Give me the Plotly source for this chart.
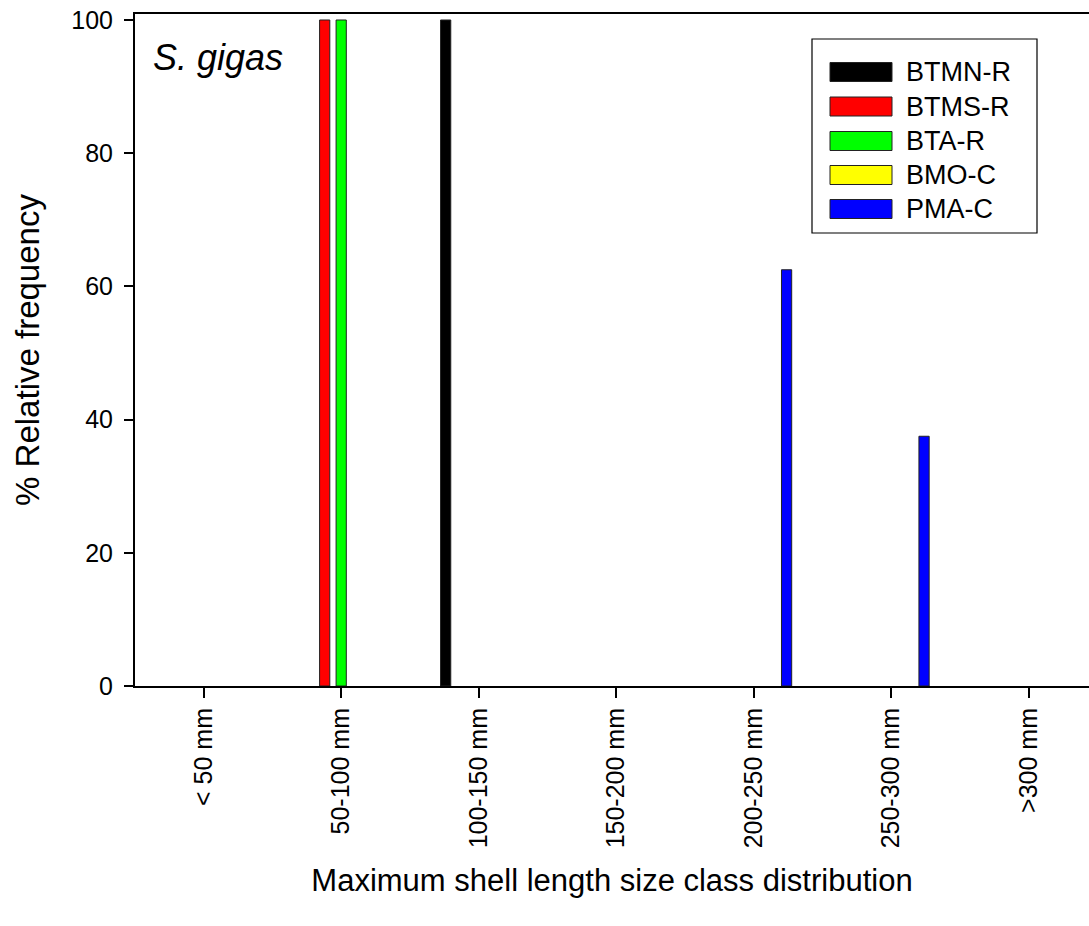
import plotly.graph_objects as go

categories = ["< 50 mm", "50-100 mm", "100-150 mm", "150-200 mm", "200-250 mm", "250-300 mm", ">300 mm"]
series_names = ["BTMN-R", "BTMS-R", "BTA-R", "BMO-C", "PMA-C"]
series_colors = ["#000000", "#ff0000", "#00ff00", "#ffff00", "#0000ff"]
btmn_r = [0, 0, 100, 0, 0, 0, 0]
btms_r = [0, 100, 0, 0, 0, 0, 0]
bta_r = [0, 100, 0, 0, 0, 0, 0]
bmo_c = [0, 0, 0, 0, 0, 0, 0]
pma_c = [0, 0, 0, 0, 62.5, 37.5, 0]
series_values = [btmn_r, btms_r, bta_r, bmo_c, pma_c]
y_ticks = [0, 20, 40, 60, 80, 100]

W, H = 1089, 926
L, R, T, B = 135, 0, 14, 240
FONT = "Arial, Liberation Sans, sans-serif"

fig = go.Figure()
for name, color, vals in zip(series_names, series_colors, series_values):
    fig.add_trace(go.Bar(
        x=list(range(len(categories))), y=vals, name=name,
        marker=dict(color=color,
                    line=dict(color="#222222", width=[1 if v else 0 for v in vals])),
        showlegend=False,
    ))

pw = W - L - R
ph = H - T - B

def px(xp):
    return (xp - L) / pw

def py(yp):
    return (H - B - yp) / ph

shapes = []
annotations = []
# legend box
shapes.append(dict(type="rect", xref="paper", yref="paper",
                   x0=px(812), x1=px(1037), y0=py(233), y1=py(39),
                   line=dict(color="#000000", width=1.2), fillcolor="white", layer="above"))
row_y = [72, 106.5, 141, 175, 209]
for i, (name, color) in enumerate(zip(series_names, series_colors)):
    yc = row_y[i]
    shapes.append(dict(type="rect", xref="paper", yref="paper",
                       x0=px(830), x1=px(892), y0=py(yc + 9.5), y1=py(yc - 9.5),
                       line=dict(color="#222222", width=1), fillcolor=color, layer="above"))
    annotations.append(dict(xref="paper", yref="paper", x=px(904), y=py(yc),
                            text=name, showarrow=False, xanchor="left", yanchor="middle",
                            font=dict(family=FONT, size=27, color="black")))

annotations.append(dict(xref="paper", yref="paper", x=px(151), y=py(57),
                        text="<i>S. gigas</i>", showarrow=False, xanchor="left", yanchor="middle",
                        font=dict(family=FONT, size=36, color="black")))

fig.update_layout(
    width=W, height=H,
    margin=dict(l=L, r=R, t=T, b=B, pad=0),
    plot_bgcolor="white", paper_bgcolor="white",
    barmode="group", bargap=0.4, bargroupgap=0.38,
    font=dict(family=FONT, size=25, color="black"),
    shapes=shapes, annotations=annotations,
    xaxis=dict(
        range=[-0.5, 6.44], tickmode="array",
        tickvals=list(range(len(categories))), ticktext=categories,
        tickangle=-90, ticks="outside", ticklen=10, tickwidth=1.5, tickcolor="black",
        showline=True, linecolor="black", linewidth=2, mirror=True,
        showgrid=False, zeroline=False,
        tickfont=dict(family=FONT, size=25),
        title=dict(text="Maximum shell length size class distribution",
                   font=dict(family=FONT, size=31), standoff=22),
    ),
    yaxis=dict(
        range=[0, 100.9], tickmode="array", tickvals=y_ticks,
        ticks="outside", ticklen=9, tickwidth=1.5, tickcolor="black",
        showline=True, linecolor="black", linewidth=2,
        showgrid=False, zeroline=False,
        tickfont=dict(family=FONT, size=25),
        ticklabelstandoff=6,
        title=dict(text="% Relative frequency", font=dict(family=FONT, size=33), standoff=22),
    ),
)

fig.write_html("out.html")
